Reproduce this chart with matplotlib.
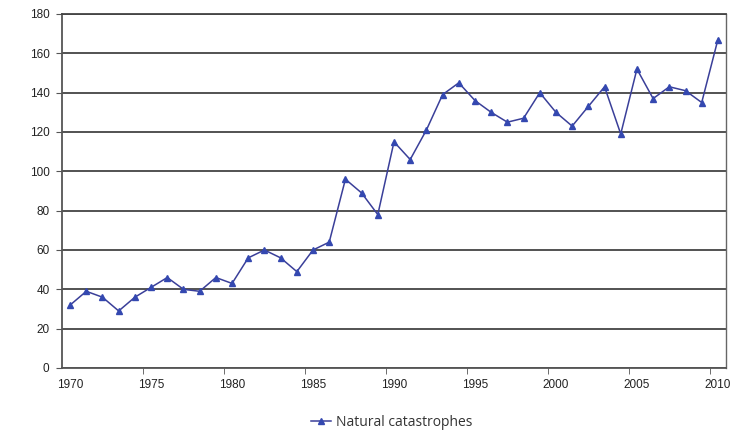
import matplotlib
matplotlib.use("Agg")
import matplotlib.pyplot as plt
import numpy as np

years = list(range(1970, 2011))
catastrophes = [32, 39, 36, 29, 36, 41, 46, 40, 39, 46, 43, 56, 60, 56, 49, 60, 64,
                96, 89, 78, 115, 106, 121, 139, 145, 136, 130, 125, 127, 140, 130,
                123, 133, 143, 119, 152, 137, 143, 141, 135, 167]
yticks = [0, 20, 40, 60, 80, 100, 120, 140, 160, 180]
xlabels = [1970, 1975, 1980, 1985, 1990, 1995, 2000, 2005, 2010]

fig = plt.figure(figsize=(7.32, 4.34), dpi=100)
ax = fig.add_axes([62/732, 1 - 368/434, (726-62)/732, (368-14)/434])

idx = np.arange(len(years))
line, = ax.plot(idx, catastrophes, color="#3a3f99", lw=1.1, marker="^",
                markersize=5, markerfacecolor="#3448b0", markeredgecolor="#3448b0",
                label="Natural catastrophes")

ax.set_ylim(0, 180)
ax.set_xlim(-0.5, len(years) - 0.5)
ax.set_yticks(yticks)
ax.set_yticklabels([str(v) for v in yticks], fontsize=8.5, family="Liberation Sans", color="#222222")
ax.yaxis.grid(True, color="#444444", lw=1.3)
ax.set_axisbelow(True)

label_pos = [years.index(y) for y in xlabels]
ax.set_xticks(label_pos)
ax.set_xticklabels([str(y) for y in xlabels], fontsize=8.5, family="Liberation Sans", color="#222222")
ax.tick_params(axis="x", length=0, pad=8)
ax.set_xticks([p - 0.5 for p in label_pos[1:]], minor=True)
ax.tick_params(axis="x", which="minor", length=4, color="#555555", direction="out")
ax.tick_params(axis="y", length=4, color="#555555", pad=5)

for s in ["left", "bottom"]:
    ax.spines[s].set_color("#555555")
    ax.spines[s].set_linewidth(1.3)
ax.spines["top"].set_color("#444444")
ax.spines["top"].set_linewidth(1.3)
ax.spines["right"].set_color("#666666")
ax.spines["right"].set_linewidth(1.0)

fig.legend(handles=[line], loc="center", bbox_to_anchor=(392/732, 1 - 422/434),
           frameon=False, prop={"family": "Open Sans", "size": 10},
           handlelength=1.4, handletextpad=0.4, labelcolor="#333333")

fig.savefig("out.png", dpi=100)
